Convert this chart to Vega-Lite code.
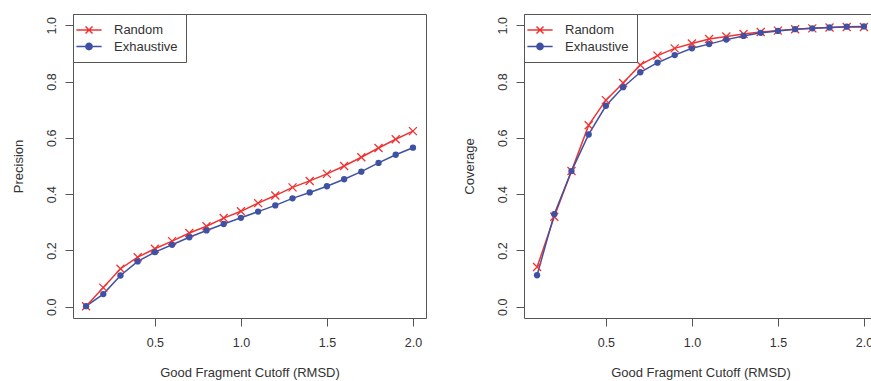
{
  "$schema": "https://vega.github.io/schema/vega-lite/v6.json",
  "padding": {"left": 11, "top": 13, "right": 0, "bottom": 0},
  "config": {
    "view": {"stroke": "#555555", "strokeWidth": 1},
    "font": "Liberation Sans",
    "axis": {
      "grid": false,
      "domain": false,
      "tickSize": 8,
      "tickColor": "#555555",
      "tickWidth": 1,
      "labelFontSize": 12.5,
      "labelColor": "#333333",
      "titleFontSize": 13,
      "titleFontWeight": "normal",
      "titleColor": "#333333"
    },
    "legend": {
      "orient": "top-left",
      "offset": 0,
      "strokeColor": "#555555",
      "fillColor": "white",
      "padding": 8,
      "cornerRadius": 0,
      "labelFontSize": 13,
      "labelColor": "#333333",
      "symbolSize": 196,
      "rowPadding": 1.5,
      "labelOffset": 17,
      "title": null
    }
  },
  "datasets": {
    "d": [
      {"cutoff": 0.1, "series": "Random", "precision": 0.002, "coverage": 0.141},
      {"cutoff": 0.2, "series": "Random", "precision": 0.068, "coverage": 0.320},
      {"cutoff": 0.3, "series": "Random", "precision": 0.135, "coverage": 0.482},
      {"cutoff": 0.4, "series": "Random", "precision": 0.176, "coverage": 0.645},
      {"cutoff": 0.5, "series": "Random", "precision": 0.206, "coverage": 0.734},
      {"cutoff": 0.6, "series": "Random", "precision": 0.233, "coverage": 0.795},
      {"cutoff": 0.7, "series": "Random", "precision": 0.262, "coverage": 0.859},
      {"cutoff": 0.8, "series": "Random", "precision": 0.286, "coverage": 0.892},
      {"cutoff": 0.9, "series": "Random", "precision": 0.315, "coverage": 0.918},
      {"cutoff": 1.0, "series": "Random", "precision": 0.339, "coverage": 0.935},
      {"cutoff": 1.1, "series": "Random", "precision": 0.368, "coverage": 0.951},
      {"cutoff": 1.2, "series": "Random", "precision": 0.395, "coverage": 0.960},
      {"cutoff": 1.3, "series": "Random", "precision": 0.424, "coverage": 0.969},
      {"cutoff": 1.4, "series": "Random", "precision": 0.447, "coverage": 0.976},
      {"cutoff": 1.5, "series": "Random", "precision": 0.472, "coverage": 0.981},
      {"cutoff": 1.6, "series": "Random", "precision": 0.500, "coverage": 0.986},
      {"cutoff": 1.7, "series": "Random", "precision": 0.531, "coverage": 0.989},
      {"cutoff": 1.8, "series": "Random", "precision": 0.564, "coverage": 0.992},
      {"cutoff": 1.9, "series": "Random", "precision": 0.595, "coverage": 0.994},
      {"cutoff": 2.0, "series": "Random", "precision": 0.624, "coverage": 0.994},
      {"cutoff": 0.1, "series": "Exhaustive", "precision": 0.002, "coverage": 0.112},
      {"cutoff": 0.2, "series": "Exhaustive", "precision": 0.045, "coverage": 0.329},
      {"cutoff": 0.3, "series": "Exhaustive", "precision": 0.111, "coverage": 0.482},
      {"cutoff": 0.4, "series": "Exhaustive", "precision": 0.161, "coverage": 0.612},
      {"cutoff": 0.5, "series": "Exhaustive", "precision": 0.194, "coverage": 0.714},
      {"cutoff": 0.6, "series": "Exhaustive", "precision": 0.220, "coverage": 0.780},
      {"cutoff": 0.7, "series": "Exhaustive", "precision": 0.247, "coverage": 0.833},
      {"cutoff": 0.8, "series": "Exhaustive", "precision": 0.271, "coverage": 0.867},
      {"cutoff": 0.9, "series": "Exhaustive", "precision": 0.294, "coverage": 0.894},
      {"cutoff": 1.0, "series": "Exhaustive", "precision": 0.316, "coverage": 0.918},
      {"cutoff": 1.1, "series": "Exhaustive", "precision": 0.338, "coverage": 0.933},
      {"cutoff": 1.2, "series": "Exhaustive", "precision": 0.360, "coverage": 0.949},
      {"cutoff": 1.3, "series": "Exhaustive", "precision": 0.385, "coverage": 0.962},
      {"cutoff": 1.4, "series": "Exhaustive", "precision": 0.406, "coverage": 0.973},
      {"cutoff": 1.5, "series": "Exhaustive", "precision": 0.428, "coverage": 0.980},
      {"cutoff": 1.6, "series": "Exhaustive", "precision": 0.453, "coverage": 0.986},
      {"cutoff": 1.7, "series": "Exhaustive", "precision": 0.480, "coverage": 0.989},
      {"cutoff": 1.8, "series": "Exhaustive", "precision": 0.511, "coverage": 0.992},
      {"cutoff": 1.9, "series": "Exhaustive", "precision": 0.540, "coverage": 0.995},
      {"cutoff": 2.0, "series": "Exhaustive", "precision": 0.565, "coverage": 0.996}
    ]
  },
  "spacing": 35,
  "resolve": {"scale": {"color": "independent"}, "legend": {"color": "independent"}},
  "hconcat": [
    {
      "width": 353,
      "height": 304,
      "data": {"name": "d"},
      "encoding": {
        "x": {"field": "cutoff", "type": "quantitative", "scale": {"domain": [0.024, 2.076], "nice": false, "zero": false},
              "axis": {"values": [0.5, 1.0, 1.5, 2.0], "format": ".1f", "title": "Good Fragment Cutoff (RMSD)", "labelPadding": 10, "minExtent": 30, "maxExtent": 30, "titlePadding": 18}},
        "y": {"field": "precision", "type": "quantitative", "scale": {"domain": [-0.04, 1.04], "nice": false, "zero": false},
              "axis": {"values": [0, 0.2, 0.4, 0.6, 0.8, 1.0], "format": ".1f", "title": "Precision", "labelAngle": -90, "labelPadding": 7, "minExtent": 30, "maxExtent": 30, "titlePadding": 18}}
      },
      "layer": [
        {
          "mark": {"type": "line", "strokeWidth": 1.5},
          "encoding": {
            "color": {"field": "series", "type": "nominal", "sort": ["Random", "Exhaustive"],
              "scale": {"domain": ["Random", "Exhaustive"], "range": ["#ee3333", "#3f51a3"]},
              "legend": {
                "symbolStrokeWidth": 1.5,
                "encode": {"symbols": {"update": {
                  "shape": {"signal": "datum.value === 'Random' ? 'M-1.8,0L1.8,0M-0.5,-0.5L0.5,0.5M-0.5,0.5L0.5,-0.5' : 'M-1.8,0L1.8,0M0.45,0A0.45,0.45 0 1,1 -0.45,0A0.45,0.45 0 1,1 0.45,0Z'"},
                  "fill": {"signal": "datum.value === 'Random' ? '#ee3333' : '#3f51a3'"},
                  "stroke": {"signal": "datum.value === 'Random' ? '#ee3333' : '#3f51a3'"}
                }}}
              }}
          }
        },
        {
          "transform": [{"filter": "datum.series === 'Random'"}],
          "mark": {"type": "point", "shape": "M-1,-1L1,1M-1,1L1,-1", "size": 64, "filled": false, "color": "#ee3333", "strokeWidth": 1.3, "opacity": 1}
        },
        {
          "transform": [{"filter": "datum.series === 'Exhaustive'"}],
          "mark": {"type": "point", "shape": "circle", "size": 40, "filled": true, "color": "#3f51a3", "opacity": 1}
        }
      ]
    },
    {
      "width": 353,
      "height": 304,
      "data": {"name": "d"},
      "encoding": {
        "x": {"field": "cutoff", "type": "quantitative", "scale": {"domain": [0.024, 2.076], "nice": false, "zero": false},
              "axis": {"values": [0.5, 1.0, 1.5, 2.0], "format": ".1f", "title": "Good Fragment Cutoff (RMSD)", "labelPadding": 10, "minExtent": 30, "maxExtent": 30, "titlePadding": 18}},
        "y": {"field": "coverage", "type": "quantitative", "scale": {"domain": [-0.04, 1.04], "nice": false, "zero": false},
              "axis": {"values": [0, 0.2, 0.4, 0.6, 0.8, 1.0], "format": ".1f", "title": "Coverage", "labelAngle": -90, "labelPadding": 7, "minExtent": 30, "maxExtent": 30, "titlePadding": 18}}
      },
      "layer": [
        {
          "mark": {"type": "line", "strokeWidth": 1.5},
          "encoding": {
            "color": {"field": "series", "type": "nominal", "sort": ["Random", "Exhaustive"],
              "scale": {"domain": ["Random", "Exhaustive"], "range": ["#ee3333", "#3f51a3"]},
              "legend": {
                "symbolStrokeWidth": 1.5,
                "encode": {"symbols": {"update": {
                  "shape": {"signal": "datum.value === 'Random' ? 'M-1.8,0L1.8,0M-0.5,-0.5L0.5,0.5M-0.5,0.5L0.5,-0.5' : 'M-1.8,0L1.8,0M0.45,0A0.45,0.45 0 1,1 -0.45,0A0.45,0.45 0 1,1 0.45,0Z'"},
                  "fill": {"signal": "datum.value === 'Random' ? '#ee3333' : '#3f51a3'"},
                  "stroke": {"signal": "datum.value === 'Random' ? '#ee3333' : '#3f51a3'"}
                }}}
              }}
          }
        },
        {
          "transform": [{"filter": "datum.series === 'Random'"}],
          "mark": {"type": "point", "shape": "M-1,-1L1,1M-1,1L1,-1", "size": 64, "filled": false, "color": "#ee3333", "strokeWidth": 1.3, "opacity": 1}
        },
        {
          "transform": [{"filter": "datum.series === 'Exhaustive'"}],
          "mark": {"type": "point", "shape": "circle", "size": 40, "filled": true, "color": "#3f51a3", "opacity": 1}
        }
      ]
    }
  ]
}
